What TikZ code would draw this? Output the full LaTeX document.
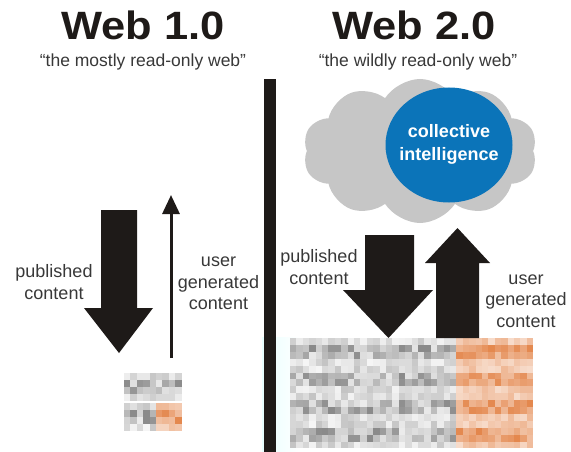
\documentclass[tikz,border=0pt]{standalone}
\usepackage{fontspec}
\setmainfont{Liberation Sans}
\usetikzlibrary{shapes.symbols,arrows.meta}

\definecolor{ink}{HTML}{1E1A18}
\definecolor{txt}{HTML}{383838}
\definecolor{cloudgray}{HTML}{C6C6C6}
\definecolor{ciblue}{HTML}{0B74B9}
\definecolor{hot}{HTML}{DD6A22}

\tikzset{
  title/.style={font=\bfseries\fontsize{39.5}{40}\selectfont, text=ink, inner sep=0pt},
  subtitle/.style={font=\fontsize{17.5}{20}\selectfont, text=txt, inner sep=0pt},
  lbl/.style={font=\fontsize{18}{21.5}\selectfont, text=txt, align=center, inner sep=0pt},
  blockarrow/.style={fill=ink, draw=none},
  pixcell/.style={draw=none},
}

% a pixelated (mosaic) block of text: rows of small cells in random shades
% #1,#2 = top-left corner, #3 = columns, #4 = rows of cells, #5 = first orange column
\newcommand{\mosaic}[5]{%
  \foreach \r in {1,...,#4}{%
    \foreach \c in {1,...,#3}{%
      \pgfmathrandominteger{\g}{8}{46}%
      \pgfmathtruncatemacro{\band}{mod(\r-1,4)}%
      \pgfmathtruncatemacro{\gg}{(\band==0 || \band==3) ? \g*0.5 : \g}%
      \pgfmathtruncatemacro{\hh}{(\band==0 || \band==3) ? 20+\g*0.6 : 35+\g}%
      \ifnum\c<#5
        \fill[pixcell, black!\gg] ({#1+(\c-1)*6.4},{#2+(\r-1)*6.9}) rectangle ++(6.4,6.9);
      \else
        \fill[pixcell, hot!\hh] ({#1+(\c-1)*6.4},{#2+(\r-1)*6.9}) rectangle ++(6.4,6.9);
      \fi
    }%
  }%
}

\begin{document}
\begin{tikzpicture}[x=1pt, y=-1pt]
\useasboundingbox (0,0) rectangle (571,452);
\pgfmathsetseed{4711}

% ---------- headings ----------
\node[title, anchor=base] (t1) at (143,40) {\scalebox{1.1}[1]{Web 1.0}};
\node[subtitle, anchor=base] (s1) at (143,67) {“the mostly read-only web”};
\node[title, anchor=base] (t2) at (414,40) {\scalebox{1.1}[1]{Web 2.0}};
\node[subtitle, anchor=base] (s2) at (418,67) {“the wildly read-only web”};

% ---------- faint backdrop of the page snippet ----------
\shade[left color=cyan!9, right color=white] (262,337) rectangle (300,452);

% ---------- pages of content ----------
\mosaic{290}{338}{38}{16}{27}
\begin{scope}
  \mosaic{124}{373}{9}{4}{20}
  \mosaic{124}{403}{5}{4}{20}
  \mosaic{156}{403}{4}{4}{1}
\end{scope}

% ---------- divider ----------
\fill[ink] (264,79) rectangle (276,452);

% ---------- Web 1.0 flows ----------
\fill[blockarrow] (101,210) -- (137,210) -- (137,308) -- (153,308)
  -- (119,353) -- (84,308) -- (101,308) -- cycle;
\coordinate (ugcfoot) at (171,358);
\coordinate (ugchead) at (171,195);
\draw[ink, line width=3pt, -{Triangle[width=17pt,length=19pt]}] (ugcfoot) -- (ugchead);

\node[lbl] (pub1) at (54,282) {published\\content};
\node[lbl] (ugc1) at (218.5,283.5) {user\\generated\\content};

% ---------- Web 2.0 cloud ----------
\node[cloud, cloud puffs=10, cloud puff arc=115, aspect=1.6,
      minimum width=234pt, minimum height=144pt, inner sep=0pt,
      fill=cloudgray, draw=none] (cloud) at (420,151) {};
\fill[ciblue] (449,145) ellipse [x radius=63.5, y radius=57.5];
\node[font=\bfseries\fontsize{18}{23}\selectfont, text=white, align=center,
      inner sep=0pt] (ci) at (449,144) {collective\\intelligence};

% ---------- Web 2.0 flows ----------
\fill[blockarrow] (365,235) -- (414,235) -- (414,290) -- (433,290)
  -- (388.5,338) -- (343,290) -- (365,290) -- cycle;
\fill[blockarrow] (436,338) -- (479,338) -- (479,263) -- (490,263)
  -- (457.5,228) -- (425,263) -- (436,263) -- cycle;

\node[lbl] (pub2) at (319,267) {published\\content};
\node[lbl] (ugc2) at (526,301) {user\\generated\\content};
\end{tikzpicture}
\end{document}
